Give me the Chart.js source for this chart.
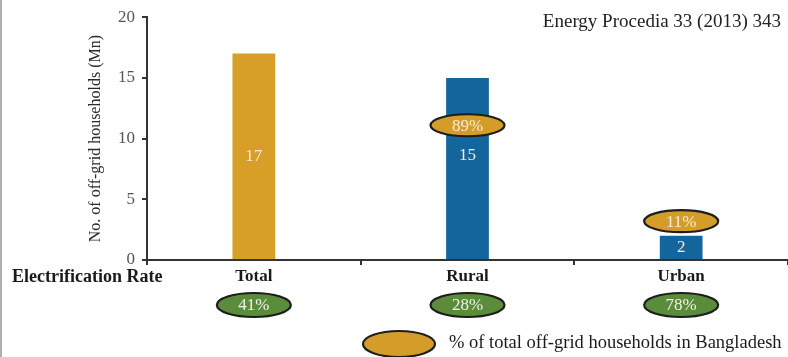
<!DOCTYPE html>
<html>
<head>
<meta charset="utf-8">
<script src="https://cdn.jsdelivr.net/npm/chart.js@4.4.0/dist/chart.umd.min.js"></script>
<style>
  html, body { margin: 0; padding: 0; background: #fff; }
  #wrap { width: 788px; height: 357px; position: relative; }
</style>
</head>
<body>
<div id="wrap"><canvas id="chart" width="788" height="357"></canvas></div>
<script>
const categories = ["Total", "Rural", "Urban"];
const households = [17, 15, 2];
const barColors = ["#d79f27", "#15659d", "#15659d"];
const offGridShare = [null, "89%", "11%"];
const electrificationRate = ["41%", "28%", "78%"];
const yTicks = [0, 5, 10, 15, 20];

// where the little labels sit (data units on the y axis)
const shareOvalY = [null, 11.1, 3.2];
const valueLabelY = [8.5, 8.6, 1];

const serif = "'Liberation Serif', 'DejaVu Serif', serif";

function drawOval(ctx, x, y, rx, ry, fill, text, textColor) {
  ctx.save();
  ctx.beginPath();
  ctx.ellipse(x, y, rx, ry, 0, 0, Math.PI * 2);
  ctx.fillStyle = fill;
  ctx.fill();
  ctx.lineWidth = 2.2;
  ctx.strokeStyle = "#1d1d1d";
  ctx.stroke();
  if (text) {
    ctx.fillStyle = textColor;
    ctx.font = "17px " + serif;
    ctx.textAlign = "center";
    ctx.textBaseline = "middle";
    ctx.fillText(text, x, y + 1);
  }
  ctx.restore();
}

const extras = {
  id: "extras",
  afterDatasetsDraw(chart) {
    const ctx = chart.ctx;
    const xs = chart.scales.x;
    const ys = chart.scales.y;

    // grey edge on the left of the scan
    ctx.save();
    ctx.fillStyle = "#b0b0b0";
    ctx.fillRect(0, 0, 2, chart.height);
    ctx.restore();

    // numbers inside the bars
    ctx.save();
    ctx.fillStyle = "#f4ecd8";
    ctx.font = "17px " + serif;
    ctx.textAlign = "center";
    ctx.textBaseline = "middle";
    households.forEach((v, i) => {
      ctx.fillText(String(v), xs.getPixelForValue(i), ys.getPixelForValue(valueLabelY[i]));
    });
    ctx.restore();

    // % of off-grid ovals
    offGridShare.forEach((t, i) => {
      if (!t) return;
      drawOval(ctx, xs.getPixelForValue(i), ys.getPixelForValue(shareOvalY[i]), 37, 11, "#d49d2a", t, "#f6ecd6");
    });

    // electrification rate row
    ctx.save();
    ctx.fillStyle = "#1a1a1a";
    ctx.font = "bold 18px " + serif;
    ctx.textAlign = "left";
    ctx.textBaseline = "middle";
    ctx.fillText("Electrification Rate", 12, 277);
    ctx.restore();
    electrificationRate.forEach((t, i) => {
      drawOval(ctx, xs.getPixelForValue(i), 305, 37, 12, "#5b8c3a", t, "#eef3e6");
    });

    // legend
    drawOval(ctx, 399, 344, 36, 13, "#d49d2a", null);
    ctx.save();
    ctx.fillStyle = "#1a1a1a";
    ctx.font = "18.5px " + serif;
    ctx.textAlign = "left";
    ctx.textBaseline = "middle";
    ctx.fillText("% of total off-grid households in Bangladesh", 449, 343);
    ctx.restore();

    // source
    ctx.save();
    ctx.fillStyle = "#222";
    ctx.font = "19px " + serif;
    ctx.textAlign = "right";
    ctx.textBaseline = "middle";
    ctx.fillText("Energy Procedia 33 (2013) 343", 781, 22);
    ctx.restore();
  }
};

const ctx = document.getElementById("chart").getContext("2d");

new Chart(ctx, {
  type: "bar",
  data: {
    labels: categories,
    datasets: [{
      label: "Off-grid households (Mn)",
      data: households,
      backgroundColor: barColors,
      borderWidth: 0,
      barPercentage: 0.2,
      categoryPercentage: 1
    }]
  },
  options: {
    responsive: false,
    animation: false,
    layout: { padding: { left: 86, right: 0, top: 16, bottom: 0 } },
    plugins: {
      legend: { display: false },
      tooltip: { enabled: false }
    },
    scales: {
      x: {
        grid: { display: true, offset: true, drawOnChartArea: false, drawTicks: true, tickLength: 5, color: "#333", lineWidth: 2 },
        border: { display: true, color: "#333", width: 2 },
        ticks: { color: "#1a1a1a", font: { family: serif, size: 17, weight: "bold" }, padding: 1 },
        afterFit(scale) { scale.height = 97; }
      },
      y: {
        min: 0,
        max: 20,
        afterBuildTicks(scale) { scale.ticks = yTicks.map(v => ({ value: v })); },
        grid: { display: true, drawOnChartArea: false, drawTicks: true, tickLength: 5, color: "#333", lineWidth: 2 },
        border: { display: true, color: "#333", width: 2 },
        ticks: { color: "#555", font: { family: serif, size: 17 }, padding: 7 },
        title: {
          display: true,
          text: "No. of off-grid households (Mn)",
          color: "#2a2a2a",
          font: { family: serif, size: 16 },
          padding: 0
        },
        afterFit(scale) { scale.width = 61; }
      }
    }
  },
  plugins: [extras]
});
</script>
</body>
</html>
